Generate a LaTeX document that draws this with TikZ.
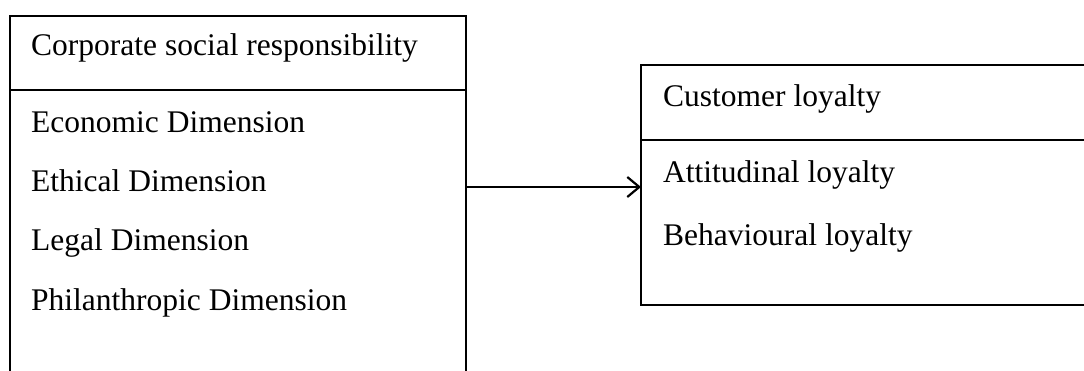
\documentclass[tikz,border=0pt]{standalone}
\usepackage{fontspec}
\setmainfont{Liberation Serif}
\usetikzlibrary{arrows.meta}
\begin{document}
\begin{tikzpicture}[x=1pt,y=-1pt,
  frame/.style={draw=black,line width=2.4pt,rectangle,inner sep=0pt,outer sep=0pt},
  lbl/.style={anchor=base west,inner sep=0pt,font=\fontsize{31.5}{36}\selectfont},
  conn/.style={line width=2.2pt,-{Straight Barb[length=12pt,width=20pt,line width=2.2pt]}}]
\clip (0,0) rectangle (1084,370);
% left box
\node[frame,minimum width=456pt,minimum height=394pt,anchor=north west] (csr) at (10,16) {};
\node[frame,minimum width=456pt,minimum height=74pt,anchor=north west] (csrh) at (10,16) {};
% right box
\node[frame,minimum width=470pt,minimum height=240pt,anchor=north west] (cl) at (641,65) {};
\node[frame,minimum width=470pt,minimum height=75pt,anchor=north west] (clh) at (641,65) {};
% texts
\node[lbl] (t0) at (31,55) {Corporate social responsibility};
\node[lbl] (t1) at (31,132) {Economic Dimension};
\node[lbl] (t2) at (31,191) {Ethical Dimension};
\node[lbl] (t3) at (31,250) {Legal Dimension};
\node[lbl] (t4) at (31,310) {Philanthropic Dimension};
\node[lbl] (r0) at (663,106) {Customer loyalty};
\node[lbl] (r1) at (663,182) {Attitudinal loyalty};
\node[lbl] (r2) at (663,245) {Behavioural loyalty};
% arrow
\coordinate (a) at (csr.east |- 0,187);
\coordinate (b) at (cl.west |- 0,187);
\draw[conn] (a) -- (b);
\end{tikzpicture}
\end{document}
